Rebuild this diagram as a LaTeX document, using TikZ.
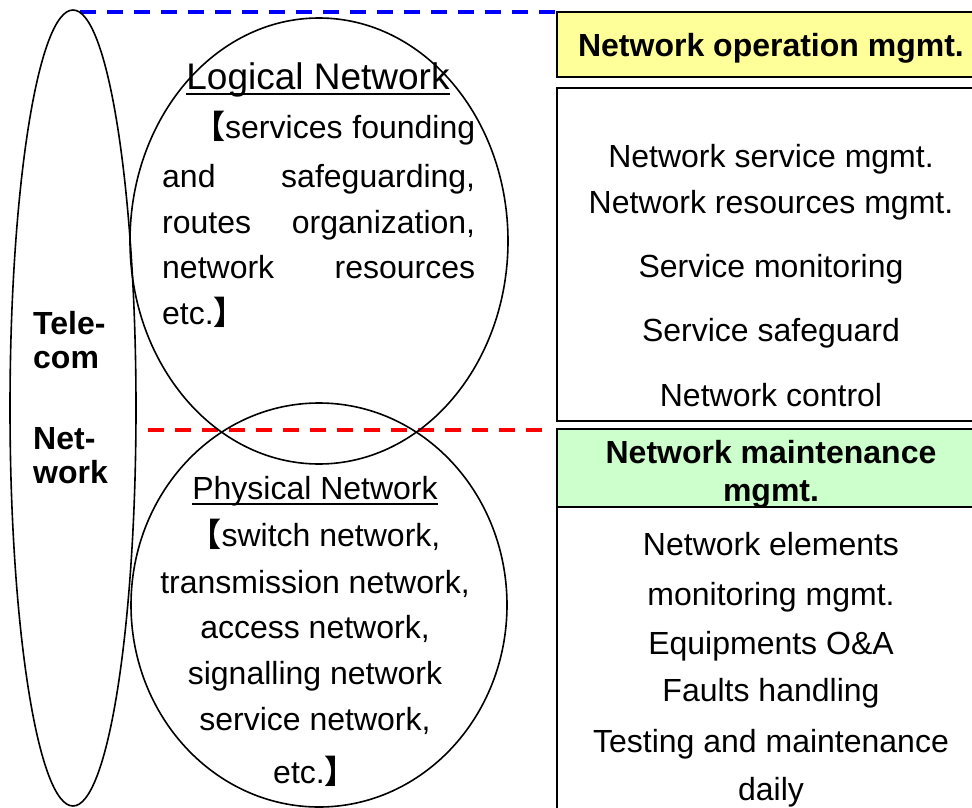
\documentclass[tikz,border=0pt]{standalone}
\usepackage{fontspec}
\setmainfont{Liberation Sans}
\newfontfamily\cjk{Noto Sans CJK SC}
\definecolor{opyellow}{HTML}{FFFF99}
\definecolor{mtgreen}{HTML}{CCFFCC}
% underline drawn at a fixed depth below the baseline
\newcommand\ulin[1]{\setbox0\hbox{#1}\rlap{\rule[-6pt]{\wd0}{1.6pt}}\box0}
\newcommand\lb{{\cjk\bfseries 【}}
\newcommand\rb{{\cjk\bfseries 】}}
\begin{document}
\begin{tikzpicture}[x=1pt,y=-1pt,
  outline/.style={draw=black,line width=1.6pt},
  boxline/.style={draw=black,line width=1.8pt},
  txt/.style={anchor=base,inner sep=0pt,font=\fontsize{32}{38}\selectfont},
  ltxt/.style={txt,anchor=base west},
  btxt/.style={txt,font=\fontsize{32}{38}\selectfont\bfseries},
  bltxt/.style={btxt,anchor=base west},
  divider/.style={line width=3.5pt,dash pattern=on 16pt off 11pt}]
\useasboundingbox (0,0) rectangle (972,808);

% right column: operation and maintenance panels
\draw[boxline,fill=opyellow] (557,12) rectangle (985,77);
\draw[boxline] (557,88) rectangle (985,421);
\draw[boxline,fill=mtgreen] (557,429) rectangle (985,507);
\draw[boxline] (557,507) rectangle (985,830);

% dividing lines between the layers
\coordinate (blueL) at (80,12);
\coordinate (blueR) at (557,12);
\coordinate (redL) at (148,430);
\coordinate (redR) at (548,430);
\draw[divider,blue] (blueL) -- (blueR);
\draw[divider,red] (redL) -- (redR);

% network ellipses
\draw[outline] (73,408) ellipse [x radius=63pt, y radius=398pt];
\draw[outline] (319,241) ellipse [x radius=189pt, y radius=223pt];
\draw[outline] (319,605) ellipse [x radius=188pt, y radius=202pt];

% whole-network label
\node[bltxt] (t1) at (33,334) {Tele-};
\node[bltxt] (t2) at (33,368) {com};
\node[bltxt] (t3) at (33,449) {Net-};
\node[bltxt] (t4) at (33,483) {work};

% logical network
\node[txt,font=\fontsize{37}{40}\selectfont] (lt) at (318,89) {\ulin{Logical Network}};
\node[ltxt] (l1) at (162,138) {\makebox[313pt][s]{\hspace*{31pt}\lb services founding}};
\node[ltxt] (l2) at (162,187) {\makebox[313pt][s]{and safeguarding,}};
\node[ltxt] (l3) at (162,233) {\makebox[313pt][s]{routes organization,}};
\node[ltxt] (l4) at (162,278) {\makebox[313pt][s]{network resources}};
\node[ltxt] (l5) at (162,324) {etc.\rb};

% physical network
\node[txt] (pt) at (315,499) {\ulin{Physical Network}};
\node[txt] (p1) at (315,546) {\lb switch network,};
\node[txt] (p2) at (315,593) {transmission network,};
\node[txt] (p3) at (315,638) {access network,};
\node[txt] (p4) at (315,684) {signalling network};
\node[txt] (p5) at (315,730) {service network,};
\node[txt] (p6) at (315,783) {etc.\rb};

% operation management
\node[btxt] (oph) at (771,57) {Network operation mgmt.};
\node[txt] (o1) at (771,167) {Network service mgmt.};
\node[txt] (o2) at (771,213) {Network resources mgmt.};
\node[txt] (o3) at (771,277) {Service monitoring};
\node[txt] (o4) at (771,341) {Service safeguard};
\node[txt] (o5) at (771,406) {Network control};

% maintenance management
\node[btxt] (mh1) at (771,463) {Network maintenance};
\node[btxt] (mh2) at (771,501) {mgmt.};
\node[txt] (m1) at (771,555) {Network elements};
\node[txt] (m2) at (771,605) {monitoring mgmt.};
\node[txt] (m3) at (771,654) {Equipments O\&A};
\node[txt] (m4) at (771,701) {Faults handling};
\node[txt] (m5) at (771,752) {Testing and maintenance};
\node[txt] (m6) at (771,800) {daily};
\end{tikzpicture}
\end{document}
